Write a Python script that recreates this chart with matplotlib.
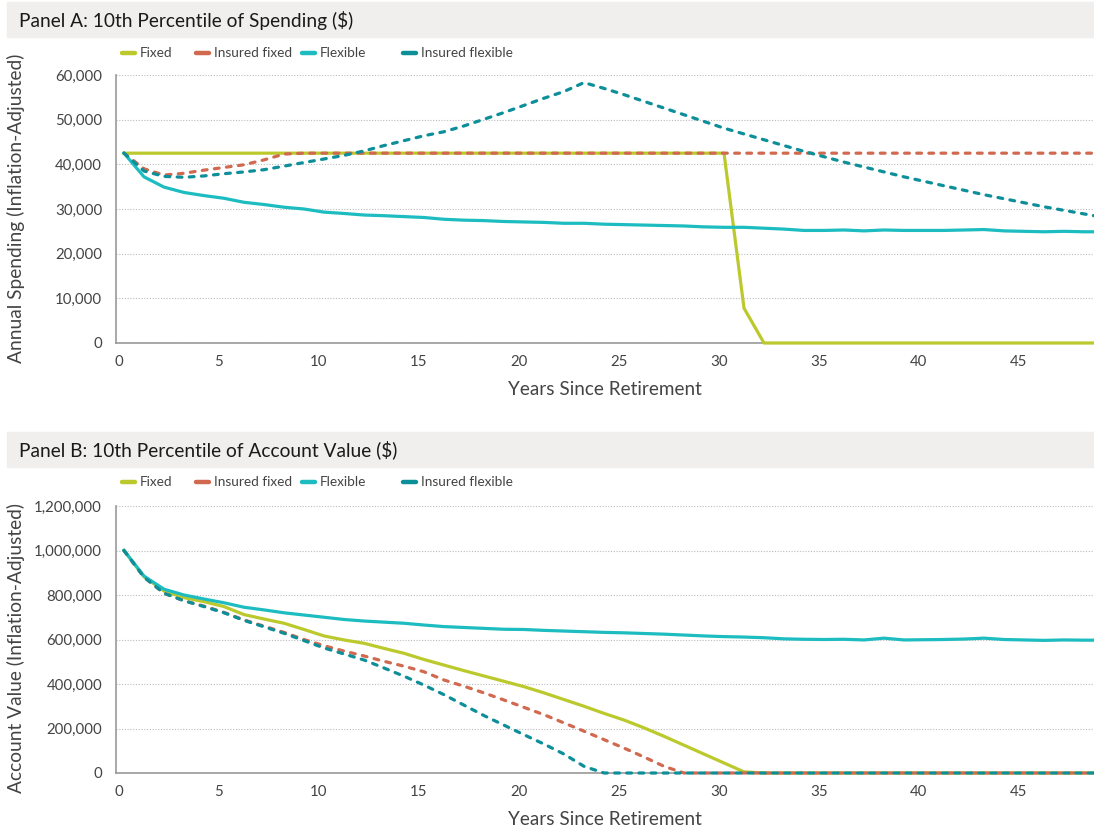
import numpy as np
import matplotlib.pyplot as plt
from matplotlib.lines import Line2D
from matplotlib.patches import Rectangle

# years since retirement (one point per year)
years = np.arange(50)

# Panel A: 10th percentile of spending ($)
spend_fixed = [42500] * 31 + [7800] + [0] * 18
spend_ins_fixed = [42500, 39000, 37600, 38000, 38700, 39300, 39900, 41000, 42300] + [42500] * 41
spend_flexible = [42500, 37200, 34900, 33700, 33000, 32400, 31500, 31000, 30400, 30000,
                  29300, 29000, 28650, 28500, 28300, 28100, 27700, 27500, 27400, 27200,
                  27100, 27000, 26800, 26800, 26600, 26500, 26400, 26300, 26200, 26000,
                  25900, 25900, 25700, 25500, 25200, 25200, 25300, 25100, 25300, 25200,
                  25200, 25200, 25300, 25400, 25100, 25000, 24900, 25000, 24900, 24900]
spend_ins_flexible = [42500, 38500, 37300, 37100, 37400, 37900, 38300, 38800, 39600, 40400,
                      41200, 42000, 43000, 44200, 45300, 46400, 47300, 48600, 50100, 51600,
                      53200, 54800, 56300, 58300, 57000, 55600, 54100, 52600, 51100, 49600,
                      48100, 46800, 45500, 44200, 42900, 41700, 40500, 39400, 38300, 37200,
                      36200, 35200, 34200, 33200, 32300, 31400, 30500, 29700, 28900, 28100]

# Panel B: 10th percentile of account value ($ thousands)
acct_fixed = [1000, 882, 818, 788, 770, 748, 712, 692, 673, 645,
              616, 598, 583, 560, 538, 510, 485, 460, 436, 412,
              388, 360, 330, 300, 268, 238, 203, 165, 125, 85,
              45, 5] + [0] * 18
acct_ins_fixed = [1000, 880, 808, 774, 750, 722, 688, 660, 632, 600,
                  572, 548, 526, 502, 480, 455, 418, 390, 360, 328,
                  295, 262, 225, 188, 150, 112, 72, 30] + [0] * 22
acct_flexible = [1000, 885, 826, 800, 782, 765, 745, 733, 720, 710,
                 700, 690, 683, 678, 673, 665, 658, 654, 650, 646,
                 645, 641, 638, 635, 632, 630, 627, 624, 620, 616,
                 613, 611, 608, 603, 601, 600, 601, 598, 606, 598,
                 599, 600, 602, 606, 600, 598, 596, 598, 597, 597]
acct_ins_flexible = [1000, 880, 808, 774, 748, 720, 686, 657, 628, 595,
                     562, 535, 508, 472, 435, 395, 352, 305, 258, 215,
                     172, 130, 85, 30] + [0] * 26

labels = ['Fixed', 'Insured fixed', 'Flexible', 'Insured flexible']
colors = ['#bcc92c', '#d0694f', '#1dbcc0', '#0d8f9a']
styles = ['-', (0, (1.5, 2.3)), '-', (0, (1.5, 2.3))]
legend_x = [122, 196, 302, 403]  # pixel position of each legend swatch

plt.rcParams['font.family'] = ['Lato', 'DejaVu Sans']
W, H = 1094, 834
fig = plt.figure(figsize=(W / 100, H / 100), dpi=100)

xs = years + 0.25  # points sit slightly right of the year ticks, like the original


def header(y_top, text):
    fig.patches.append(Rectangle((7 / W, 1 - (y_top + 35) / H), 1 - 7 / W, 35 / H,
                                 transform=fig.transFigure, color='#f0efed', zorder=0))
    fig.text(19 / W, 1 - (y_top + 18) / H, text, fontsize=13.8, va='center', color='#1a1a1a')


def legend(y_px):
    y = 1 - y_px / H
    for x0, c, lab in zip(legend_x, colors, labels):
        fig.add_artist(Line2D([x0 / W, (x0 + 13) / W], [y, y], color=c, lw=3.2,
                              solid_capstyle='round', transform=fig.transFigure))
        fig.text((x0 + 18) / W, y, lab, fontsize=9.8, va='center', color='#444444')


def panel(ax, series, ymax, ystep, ylabel, ylabel_y):
    for vals, c, ls in zip(series, colors, styles):
        ax.plot(xs, vals, color=c, lw=2.3, linestyle=ls, dash_capstyle='round',
                clip_on=False, zorder=3)
    ax.set_xlim(-0.15, 48.75)
    ax.set_ylim(0, ymax)
    ax.set_xticks(np.arange(0, 46, 5))
    ax.set_yticks(np.arange(0, ymax + 1, ystep))
    ax.yaxis.set_major_formatter(plt.FuncFormatter(lambda v, p: f'{v:,.0f}'))
    ax.grid(axis='y', linestyle=(0, (1, 1.5)), color='#bbbbbb', lw=0.8)
    ax.set_axisbelow(True)
    for s in ['top', 'right']:
        ax.spines[s].set_visible(False)
    for s in ['left', 'bottom']:
        ax.spines[s].set_color('#999999')
        ax.spines[s].set_linewidth(1.2)
    ax.tick_params(axis='y', length=0, labelsize=10.8, labelcolor='#444444', pad=10)
    ax.tick_params(axis='x', length=0, labelsize=10.8, labelcolor='#444444', pad=9)
    ax.set_xlabel('Years Since Retirement', fontsize=13.6, color='#444444', labelpad=8)
    fig.text(16 / W, 1 - ylabel_y / H, ylabel, rotation=90, fontsize=13.8,
             color='#444444', ha='center', va='center')


# Panel A
header(2, 'Panel A: 10th Percentile of Spending ($)')
legend(53)
axA = fig.add_axes([116 / W, 1 - 343 / H, 1 - 116 / W, 268 / H])
panel(axA, [spend_fixed, spend_ins_fixed, spend_flexible, spend_ins_flexible],
      60000, 10000, 'Annual Spending (Inflation-Adjusted)', 208)

# Panel B
header(432, 'Panel B: 10th Percentile of Account Value ($)')
legend(482)
axB = fig.add_axes([116 / W, 1 - 773 / H, 1 - 116 / W, 267 / H])
panel(axB, [np.array(v) * 1000 for v in [acct_fixed, acct_ins_fixed, acct_flexible, acct_ins_flexible]],
      1200000, 200000, 'Account Value (Inflation-Adjusted)', 648)

fig.savefig('out.png', dpi=100)
